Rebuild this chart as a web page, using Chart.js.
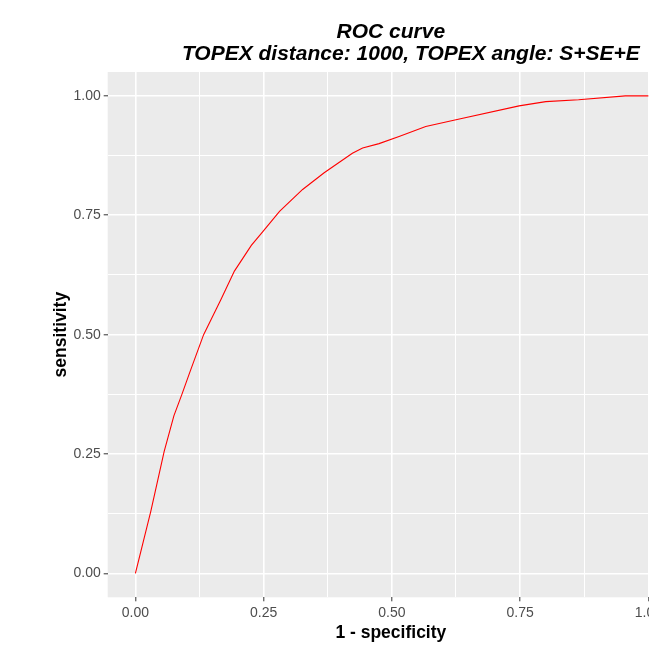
<!DOCTYPE html>
<html>
<head>
<meta charset="utf-8">
<script src="https://cdn.jsdelivr.net/npm/chart.js@4/dist/chart.umd.min.js"></script>
<style>
  html, body { margin: 0; padding: 0; background: #ffffff; overflow: hidden; }
  #wrap { position: absolute; left: 0; top: 0; width: 700px; height: 649px; }
</style>
</head>
<body>
<div id="wrap"><canvas id="c" width="700" height="649"></canvas></div>
<script>
// ---- data ----
const fpr = [0, 0.030, 0.056, 0.075, 0.091, 0.106, 0.133, 0.167, 0.193, 0.226, 0.248, 0.281, 0.326, 0.368, 0.423, 0.443, 0.475, 0.514, 0.566, 0.625, 0.748, 0.800, 0.864, 0.955, 1.000];
const tpr = [0, 0.130, 0.255, 0.330, 0.376, 0.421, 0.500, 0.574, 0.633, 0.687, 0.715, 0.758, 0.804, 0.839, 0.880, 0.891, 0.900, 0.915, 0.936, 0.950, 0.979, 0.988, 0.992, 1.000, 1.000];
const titleLines = ["ROC curve", "TOPEX distance: 1000, TOPEX angle: S+SE+E"];
const xTitle = "1 - specificity";
const yTitle = "sensitivity";

const FONT = '"Liberation Sans", Arial, sans-serif';

function isMajor(v) {
  const r = v / 0.25;
  return Math.abs(r - Math.round(r)) < 1e-6;
}

const panelBg = {
  id: 'panelBg',
  beforeDraw(chart) {
    const {ctx, chartArea: a} = chart;
    ctx.save();
    ctx.fillStyle = '#EBEBEB';
    ctx.fillRect(a.left, a.top, a.right - a.left, a.bottom - a.top);
    ctx.restore();
  }
};

const titlePlugin = {
  id: 'ggTitle',
  afterDraw(chart) {
    const {ctx, chartArea: a} = chart;
    const cx = (a.left + a.right) / 2;
    ctx.save();
    ctx.fillStyle = '#000000';
    ctx.font = 'italic bold 21px ' + FONT;
    ctx.textBaseline = 'alphabetic';
    ctx.textAlign = 'center';
    ctx.fillText(titleLines[0], cx, 37.5);
    ctx.fillText(titleLines[1], cx + 20, 60);
    ctx.restore();
  }
};

const points = fpr.map((x, i) => ({x: x, y: tpr[i]}));

const gridOpts = {
  color: '#FFFFFF',
  lineWidth: (ctx) => (ctx.tick && isMajor(ctx.tick.value)) ? 1.6 : 1.0,
  tickColor: (ctx) => (ctx.tick && isMajor(ctx.tick.value)) ? '#333333' : 'rgba(0,0,0,0)',
  tickWidth: 1,
  tickLength: 4,
  drawTicks: true
};

new Chart(document.getElementById('c'), {
  type: 'line',
  data: {
    datasets: [{
      data: points,
      borderColor: '#FF0000',
      borderWidth: 1.1,
      pointRadius: 0,
      tension: 0,
      fill: false
    }]
  },
  options: {
    responsive: false,
    animation: false,
    devicePixelRatio: 1,
    layout: { padding: { top: 72, right: 26, bottom: 0, left: 0 } },
    plugins: { legend: { display: false }, tooltip: { enabled: false }, title: { display: false } },
    scales: {
      x: {
        type: 'linear',
        min: -0.054,
        max: 1.05,
        border: { display: false },
        afterFit(s) { s.height = 51.7; },
        grid: gridOpts,
        ticks: {
          stepSize: 0.125,
          includeBounds: false,
          autoSkip: false,
          maxRotation: 0,
          padding: 3,
          color: '#4D4D4D',
          font: { family: FONT, size: 14 },
          callback: (v) => isMajor(v) ? Number(v).toFixed(2) : ''
        },
        title: {
          display: true,
          text: xTitle,
          color: '#000000',
          font: { family: FONT, size: 17.5, weight: 'bold' },
          padding: { top: 0, bottom: 5.5 }
        }
      },
      y: {
        type: 'linear',
        min: -0.05,
        max: 1.05,
        border: { display: false },
        afterFit(s) { s.width = 107.7; },
        grid: gridOpts,
        ticks: {
          stepSize: 0.125,
          includeBounds: false,
          autoSkip: false,
          padding: 3,
          color: '#4D4D4D',
          font: { family: FONT, size: 14 },
          callback: (v) => isMajor(v) ? Number(v).toFixed(2) : ''
        },
        title: {
          display: true,
          text: yTitle,
          color: '#000000',
          font: { family: FONT, size: 17.5, weight: 'bold' },
          padding: { top: 51, bottom: 0 }
        }
      }
    }
  },
  plugins: [panelBg, titlePlugin]
});
</script>
</body>
</html>
